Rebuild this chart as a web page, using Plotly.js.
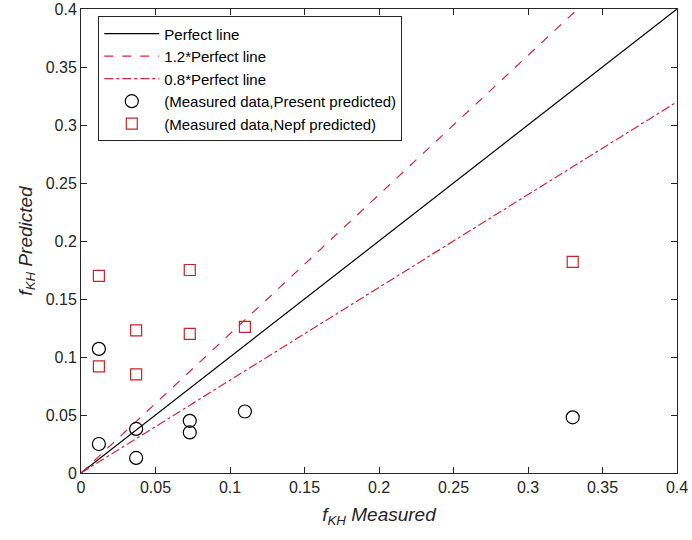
<!DOCTYPE html>
<html>
<head>
<meta charset="utf-8">
<script src="https://cdn.plot.ly/plotly-3.0.1.min.js"></script>
<style>
  body { margin: 0; background: #fff; }
  #plot { width: 692px; height: 540px; }
</style>
</head>
<body>
<div id="plot"></div>
<script>
"use strict"
// reference lines go from 0 to 0.4 on the measured axis
let line_x = [0, 0.4];
let perfect_y = [0, 0.4];
let up_y = [0, 0.48];     // 1.2*perfect
let down_y = [0, 0.32];   // 0.8*perfect

// measured values and both predictions
let present_x = [0.012, 0.012, 0.037, 0.037, 0.073, 0.073, 0.11, 0.33];
let present_y = [0.107, 0.025, 0.038, 0.013, 0.045, 0.035, 0.053, 0.048];
let nepf_x = [0.012, 0.012, 0.037, 0.037, 0.073, 0.073, 0.11, 0.33];
let nepf_y = [0.170, 0.092, 0.123, 0.085, 0.175, 0.120, 0.126, 0.182];

let tick_vals = [0, 0.05, 0.1, 0.15, 0.2, 0.25, 0.3, 0.35, 0.4];
let tick_text = ["0", "0.05", "0.1", "0.15", "0.2", "0.25", "0.3", "0.35", "0.4"];

let red = "#d7263d";

let data = [
    { x: line_x, y: perfect_y, mode: "lines", name: "Perfect line",
      line: { color: "#000", width: 1.2 } },
    { x: line_x, y: up_y, mode: "lines", name: "1.2*Perfect line",
      line: { color: red, width: 1.2, dash: "dash" } },
    { x: line_x, y: down_y, mode: "lines", name: "0.8*Perfect line",
      line: { color: red, width: 1.2, dash: "dashdot" } },
    { x: present_x, y: present_y, mode: "markers", name: "(Measured data,Present predicted)",
      marker: { symbol: "circle-open", size: 13, color: "#000", line: { width: 1.2 } } },
    { x: nepf_x, y: nepf_y, mode: "markers", name: "(Measured data,Nepf predicted)",
      marker: { symbol: "square-open", size: 11, color: "#c0282d", line: { width: 1.2 } } }
];

let axis_common = {
    range: [0, 0.4],
    tickvals: tick_vals,
    ticktext: tick_text,
    ticks: "inside",
    ticklen: 6,
    tickcolor: "#262626",
    showline: true,
    linecolor: "#262626",
    linewidth: 1,
    mirror: "ticks",
    showgrid: false,
    zeroline: false,
    tickfont: { family: "Liberation Sans, Arial", size: 16, color: "#262626" }
};

let layout = {
    width: 692,
    height: 540,
    margin: { l: 81, r: 15, t: 9, b: 67 },
    paper_bgcolor: "#fff",
    plot_bgcolor: "#fff",
    showlegend: true,
    legend: {
        x: 0.029, y: 0.984, xanchor: "left", yanchor: "top",
        bgcolor: "#fff", bordercolor: "#262626", borderwidth: 1,
        font: { family: "Liberation Sans, Arial", size: 15, color: "#000" },
        itemwidth: 55, tracegroupgap: 0
    },
    xaxis: Object.assign({}, axis_common, {
        title: { text: "<i>f<sub>KH</sub> Measured</i>", standoff: 12,
                 font: { family: "Liberation Sans, Arial", size: 19, color: "#262626" } }
    }),
    yaxis: Object.assign({}, axis_common, {
        title: { text: "<i>f<sub>KH</sub> Predicted</i>", standoff: 8,
                 font: { family: "Liberation Sans, Arial", size: 19, color: "#262626" } }
    })
};

Plotly.newPlot("plot", data, layout, { displayModeBar: false, staticPlot: true });
</script>
</body>
</html>
